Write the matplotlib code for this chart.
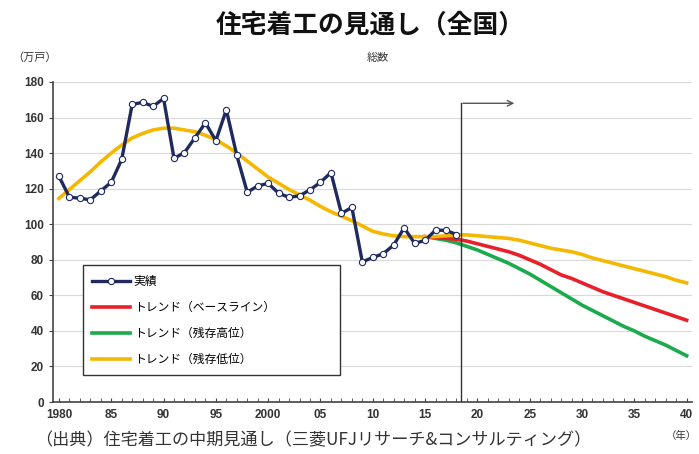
import matplotlib.pyplot as plt
import numpy as np

plt.rcParams['font.family'] = ['Noto Sans CJK JP', 'DejaVu Sans']

# 実績（万戸）
years_actual = list(range(1980, 2019))
actual = [126.9, 115.2, 114.6, 113.7, 118.7, 123.6, 136.4, 167.4, 168.5, 166.3,
          170.7, 137.0, 140.3, 148.6, 157.0, 147.0, 164.3, 138.7, 118.0, 121.5,
          123.0, 117.4, 115.1, 116.0, 119.3, 123.6, 129.0, 106.1, 109.4, 78.8,
          81.3, 83.4, 88.3, 98.0, 89.2, 90.9, 96.7, 96.5, 94.2]

# トレンド（残存低位） 1980-2040
years_low = list(range(1980, 2041))
trend_low = [114.5, 119.5, 124.5, 129.5, 135, 140, 144.5, 148.5, 151, 153,
             154, 154, 153, 152, 150, 147.5, 144, 140, 135.5, 131,
             126.5, 123, 119.5, 116.5, 113.5, 110, 107, 104.5, 102, 99,
             96, 94.5, 93.5, 93, 93, 93, 93, 93.5, 94, 94,
             93.5, 93, 92.5, 92, 91, 89.5, 88, 86.5, 85.5, 84.5,
             83, 81, 79.5, 78, 76.5, 75, 73.5, 72, 70.5, 68.5, 67]

# トレンド（ベースライン）, （残存高位） 2015-2040
years_fc = list(range(2015, 2041))
trend_base = [93, 92.5, 92, 91.5, 90.5, 89, 87.5, 86, 84.5, 82.5,
              80, 77.5, 74.5, 71.5, 69.5, 67, 64.5, 62, 60, 58,
              56, 54, 52, 50, 48, 46]
trend_high = [93, 92, 91, 89.5, 87.5, 85.5, 83, 80.5, 78, 75,
              72, 68.5, 65, 61.5, 58, 54.5, 51.5, 48.5, 45.5, 42.5,
              40, 37, 34.5, 32, 29, 26]

xtick_pos = list(range(1980, 2041, 5))
xtick_labels = ['1980', '85', '90', '95', '2000', '05', '10', '15',
                '20', '25', '30', '35', '40']

navy = '#1F2A5E'
red = '#E8202A'
green = '#1BAA4C'
gold = '#F5B800'

fig = plt.figure(figsize=(6.99, 4.54), dpi=100)
ax = fig.add_axes([0.0758, 0.1145, 0.914, 0.705])

ax.plot(years_actual, actual, color=navy, lw=2.4, marker='o', ms=4.5,
        mfc='white', mec=navy, mew=0.8, label='実績', zorder=5)
ax.plot(years_fc, trend_base, color=red, lw=2.6, label='トレンド（ベースライン）', zorder=3)
ax.plot(years_fc, trend_high, color=green, lw=2.6, label='トレンド（残存高位）', zorder=2)
ax.plot(years_low, trend_low, color=gold, lw=2.6, label='トレンド（残存低位）', zorder=4)

# 予測開始の線と矢印
ax.plot([2018.4, 2018.4], [0, 168], color='#333333', lw=1, zorder=6)
ax.annotate('', xy=(2023.8, 168), xytext=(2018.35, 168),
            arrowprops=dict(arrowstyle='->', color='#555555', lw=1))

ax.set_xlim(1979.43, 2040.5)
ax.set_ylim(0, 180)
ax.set_yticks(range(0, 181, 20))
ax.set_xticks(range(1980, 2041), minor=True)
ax.set_xticks(xtick_pos)
ax.set_xticklabels(xtick_labels)
ax.grid(axis='y', color='#DADADA', lw=0.8)
ax.set_axisbelow(True)

for s in ['top', 'right']:
    ax.spines[s].set_visible(False)
for s in ['left', 'bottom']:
    ax.spines[s].set_color('#444444')
    ax.spines[s].set_linewidth(1.2)

ax.tick_params(axis='y', direction='out', length=3, color='#444444',
               labelsize=8.5, labelcolor='#333333')
ax.tick_params(axis='x', which='both', direction='in', length=3, color='#444444',
               labelsize=8.5, labelcolor='#333333', pad=5)
for t in ax.get_xticklabels() + ax.get_yticklabels():
    t.set_fontfamily(['Liberation Sans', 'DejaVu Sans'])
    t.set_fontweight('bold')

leg = ax.legend(loc='lower left', bbox_to_anchor=(0.047, 0.084, 0.402, 0.344),
                mode='expand', borderaxespad=0, fontsize=8.5, fancybox=False,
                edgecolor='#333333', handlelength=3.2, labelspacing=1.1,
                handletextpad=0.3, borderpad=0.8, framealpha=1)
leg.get_frame().set_linewidth(1.0)

fig.text(0.53, 0.945, '住宅着工の見通し（全国）', ha='center', va='center',
         fontsize=18.5, fontweight='bold', color='#111111')
fig.text(0.54, 0.873, '総数', ha='center', va='center', fontsize=8, color='#333333')
fig.text(0.05, 0.873, '（万戸）', ha='center', va='center', fontsize=8, color='#333333')
fig.text(0.05, 0.03, '（出典）住宅着工の中期見通し（三菱UFJリサーチ&コンサルティング）',
         ha='left', va='center', fontsize=12.3, color='#333333')
fig.text(0.953, 0.04, '（年）', ha='left', va='center', fontsize=7.5, color='#333333')

fig.savefig('out.png', dpi=100)
